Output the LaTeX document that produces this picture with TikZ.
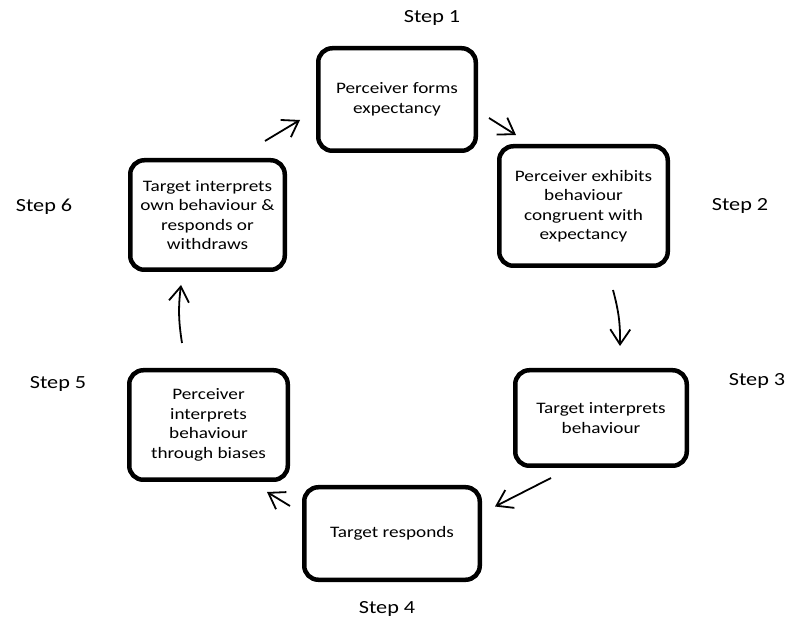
\documentclass[tikz,border=0pt]{standalone}
\usepackage{fontspec}
\setmainfont{Carlito}[FakeStretch=1.2]
\usetikzlibrary{arrows.meta, positioning}

\begin{document}
\begin{tikzpicture} [x=1pt, y=-1pt, semithick,
  stage/.style ={draw, line width=4.5pt, rounded corners=14pt, align=center, inner sep=0pt, font=\fontsize{16}{19.5}\selectfont},
  steplabel/.style ={font=\fontsize{18.5}{22}\selectfont},
  link/.style ={line width=1.8pt, -{Straight Barb[length=15pt, width=20pt, line width=1.8pt]}}]
	\useasboundingbox (0,0) rectangle (788,628);
	\node[stage, minimum width=157.5pt, minimum height=102.5pt] (S1) at (397,99.5) {Perceiver forms\\expectancy};
	\node[stage, minimum width=168.5pt, minimum height=119.5pt] (S2) at (583.5,206) {Perceiver exhibits\\behaviour\\congruent with\\expectancy};
	\node[stage, minimum width=171.5pt, minimum height=95.5pt] (S3) at (601,418) {Target interprets\\behaviour};
	\node[stage, minimum width=175.5pt, minimum height=92.5pt] (S4) at (392,533.5) {Target responds};
	\node[stage, minimum width=158.5pt, minimum height=109.5pt] (S5) at (208.5,425) {Perceiver\\interprets\\behaviour\\through biases};
	\node[stage, minimum width=154.5pt, minimum height=109.5pt] (S6) at (207.5,215) {Target interprets\\own behaviour \&\\responds or\\withdraws};
	\node[steplabel] (L1) at (432,18) {Step 1};
	\node[steplabel] (L2) at (740,206) {Step 2};
	\node[steplabel] (L3) at (757,381) {Step 3};
	\node[steplabel] (L4) at (387,609) {Step 4};
	\node[steplabel] (L5) at (58,384) {Step 5};
	\node[steplabel] (L6) at (44,207) {Step 6};
	\draw[link] ([shift={(-22,-17)}]S6.north east) -- ([shift={(-16,20.5)}]S1.west);
	\draw[link] ([shift={(11,18.5)}]S1.east) -- ([shift={(19,-9)}]S2.north west);
	\draw[link] ([shift={(29.5,22)}]S2.south) to[bend left=8] ([shift={(19,-22)}]S3.north);
	\draw[link] ([shift={(38,10)}]S3.south west) -- ([shift={(13,-27)}]S4.east);
	\draw[link] ([shift={(-12,-27.5)}]S4.west) -- ([shift={(-23,10)}]S5.south east);
	\draw[link] ([shift={(-26.5,-25)}]S5.north) to[bend left=8] ([shift={(-26.5,13)}]S6.south);
\end{tikzpicture}
\end{document}
